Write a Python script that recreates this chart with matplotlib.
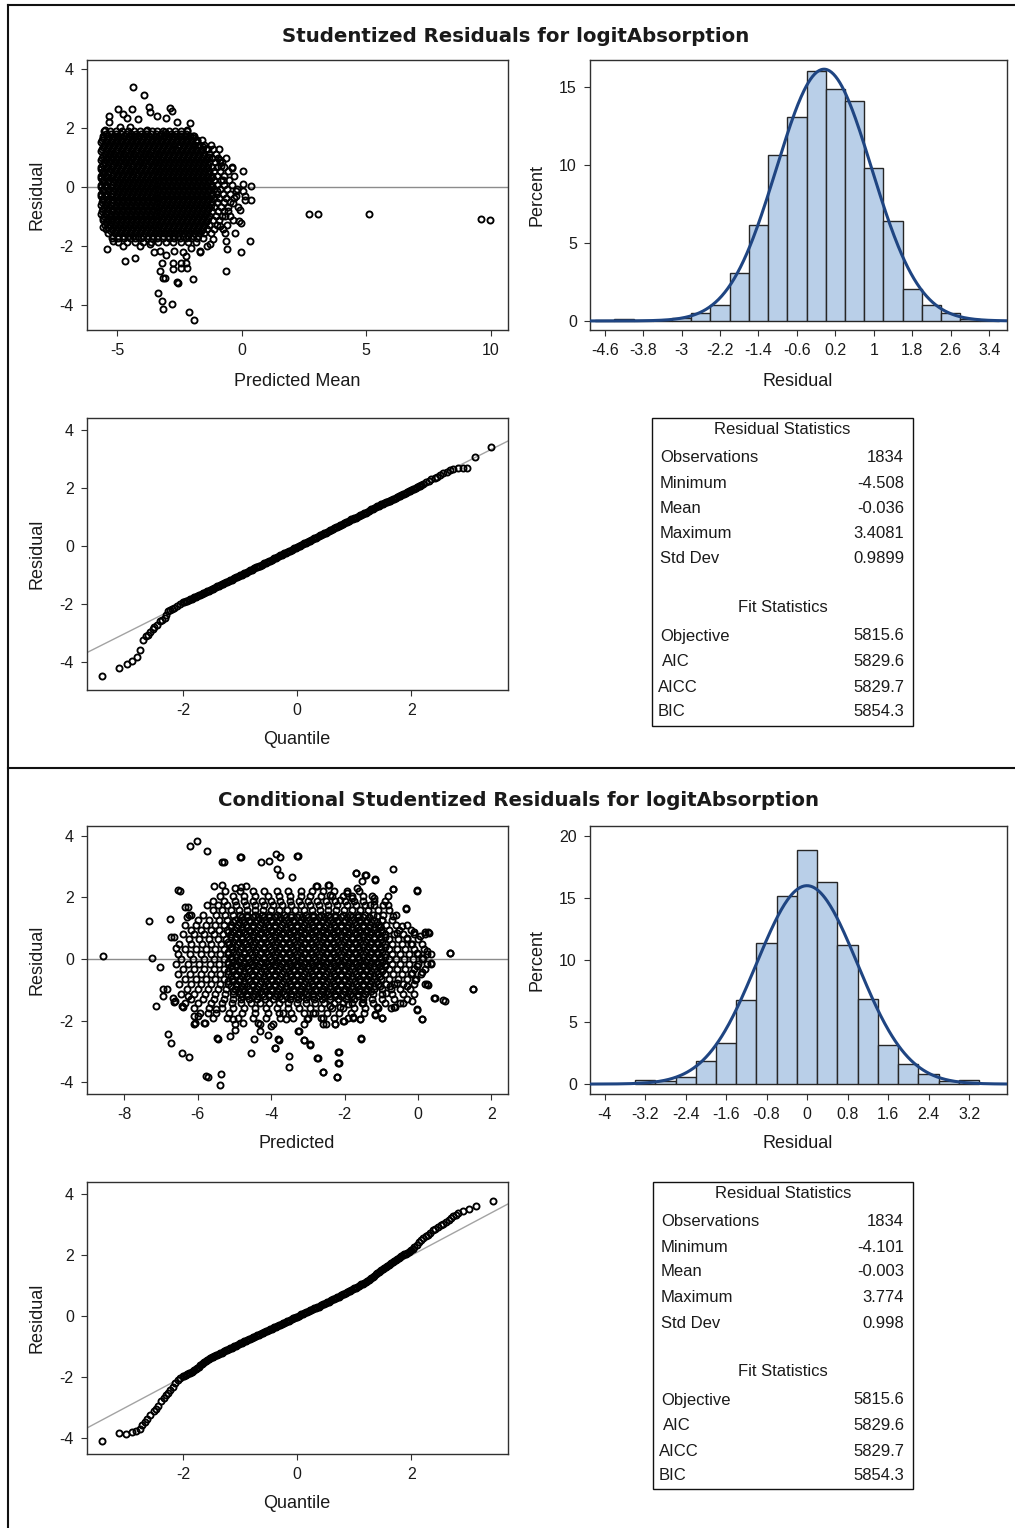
import numpy as np
import matplotlib
matplotlib.use("Agg")
import matplotlib.pyplot as plt
from matplotlib.patches import Rectangle
from matplotlib.lines import Line2D

plt.rcParams["axes.unicode_minus"] = False

W, H = 1015, 1528
LABEL_FONT = "Liberation Sans"
TITLE_FONT = "DejaVu Sans"
INK = "#1a1a1a"
FRAME = "#303030"
BAR_FILL = "#b9cfe8"
CURVE = "#1f4582"

# ---------------------------------------------------------------- data
TITLES = ["Studentized Residuals for logitAbsorption",
          "Conditional Studentized Residuals for logitAbsorption"]
SCATTER_XLABELS = ["Predicted Mean", "Predicted"]

# residual statistics tables (label, printed value)
TOP_RES_STATS = [("Observations", "1834"), ("Minimum", "-4.508"), ("Mean", "-0.036"),
                 ("Maximum", "3.4081"), ("Std Dev", "0.9899")]
BOT_RES_STATS = [("Observations", "1834"), ("Minimum", "-4.101"), ("Mean", "-0.003"),
                 ("Maximum", "3.774"), ("Std Dev", "0.998")]
FIT_STATS = [("Objective", "5815.6"), ("AIC", "5829.6"), ("AICC", "5829.7"), ("BIC", "5854.3")]

# histogram bins: centres and percent of observations (bin width 0.4)
BIN_WIDTH = 0.4
TOP_HIST_CENTERS = [-4.6, -4.2, -3.8, -3.4, -3.0, -2.6, -2.2, -1.8, -1.4, -1.0, -0.6,
                    -0.2, 0.2, 0.6, 1.0, 1.4, 1.8, 2.2, 2.6, 3.0, 3.4]
TOP_HIST_PCT = [0.05, 0.11, 0.05, 0.05, 0.16, 0.49, 1.04, 3.05, 6.12, 10.6, 13.06,
                16.0, 14.87, 14.08, 9.79, 6.42, 2.05, 1.04, 0.51, 0.13, 0.05]
BOT_HIST_CENTERS = [-3.2, -2.8, -2.4, -2.0, -1.6, -1.2, -0.8, -0.4, 0.0, 0.4, 0.8,
                    1.2, 1.6, 2.0, 2.4, 2.8, 3.2]
BOT_HIST_PCT = [0.29, 0.27, 0.6, 1.87, 3.3, 6.75, 11.33, 15.12, 18.85, 16.32, 11.2,
                6.88, 3.17, 1.63, 0.83, 0.27, 0.29]
TOP_HIST_TICKS = [-4.6, -3.8, -3.0, -2.2, -1.4, -0.6, 0.2, 1.0, 1.8, 2.6, 3.4]
BOT_HIST_TICKS = [-4.0, -3.2, -2.4, -1.6, -0.8, 0.0, 0.8, 1.6, 2.4, 3.2]

# residual vs predicted mean (marginal model): rows across the main cloud
TOP_ROWS = [
    (1.88, [-5.52, -5.28, -5.05, -4.8, -4.58, -4.33, -4.1, -3.86, -3.62, -3.4, -3.15, -2.92, -2.68, -2.45, -2.2]),
    (1.73, [-5.56, -5.36, -5.14, -4.95, -4.73, -4.52, -4.34, -4.12, -3.93, -3.72, -3.5, -3.31, -3.1, -2.9, -2.7, -2.48, -2.28, -2.08, -1.9]),
    (1.58, [-5.6, -5.42, -5.22, -5.01, -4.83, -4.62, -4.42, -4.23, -4.02, -3.82, -3.62, -3.41, -3.22, -3.01, -2.81, -2.6, -2.41, -2.2, -2.0, -1.8, -1.58]),
    (1.43, [-5.52, -5.31, -5.12, -4.92, -4.71, -4.52, -4.31, -4.12, -3.91, -3.71, -3.52, -3.3, -3.11, -2.9, -2.71, -2.5, -2.31, -2.11, -1.9, -1.71, -1.5, -1.25]),
    (1.28, [-5.6, -5.41, -5.2, -5.02, -4.8, -4.61, -4.42, -4.2, -4.02, -3.8, -3.61, -3.42, -3.2, -3.01, -2.8, -2.62, -2.4, -2.21, -2.0, -1.82, -1.6, -1.42, -1.15, -0.9]),
    (1.13, [-5.5, -5.3, -5.11, -4.9, -4.71, -4.5, -4.31, -4.1, -3.9, -3.71, -3.5, -3.3, -3.1, -2.91, -2.7, -2.5, -2.31, -2.1, -1.9, -1.71, -1.5, -1.32, -1.05]),
    (0.98, [-5.62, -5.41, -5.21, -5.0, -4.81, -4.6, -4.41, -4.2, -4.01, -3.8, -3.6, -3.41, -3.2, -3.0, -2.81, -2.6, -2.4, -2.2, -2.01, -1.8, -1.6, -1.41, -1.2, -0.95, -0.62]),
    (0.83, [-5.52, -5.31, -5.1, -4.91, -4.7, -4.51, -4.3, -4.1, -3.91, -3.7, -3.5, -3.31, -3.1, -2.9, -2.7, -2.51, -2.3, -2.1, -1.91, -1.7, -1.5, -1.3, -1.08, -0.8]),
    (0.68, [-5.64, -5.42, -5.2, -5.01, -4.8, -4.6, -4.4, -4.21, -4.0, -3.8, -3.61, -3.4, -3.2, -3.0, -2.8, -2.61, -2.4, -2.2, -2.0, -1.81, -1.6, -1.4, -1.21, -1.0, -0.7]),
    (0.53, [-5.55, -5.32, -5.1, -4.9, -4.7, -4.5, -4.31, -4.1, -3.9, -3.7, -3.5, -3.3, -3.11, -2.9, -2.7, -2.5, -2.3, -2.1, -1.9, -1.7, -1.5, -1.31, -1.1, -0.88, -0.55]),
    (0.38, [-5.66, -5.44, -5.21, -5.0, -4.8, -4.6, -4.41, -4.2, -4.0, -3.8, -3.6, -3.4, -3.2, -3.01, -2.8, -2.6, -2.4, -2.2, -2.0, -1.8, -1.6, -1.41, -1.2, -0.98, -0.7, -0.3]),
    (0.23, [-5.55, -5.33, -5.1, -4.9, -4.7, -4.5, -4.3, -4.1, -3.9, -3.7, -3.5, -3.3, -3.1, -2.9, -2.7, -2.5, -2.3, -2.1, -1.9, -1.7, -1.5, -1.3, -1.1, -0.85, -0.5]),
    (0.08, [-5.66, -5.43, -5.2, -5.0, -4.8, -4.6, -4.4, -4.2, -4.0, -3.8, -3.6, -3.4, -3.2, -3.0, -2.8, -2.6, -2.4, -2.2, -2.0, -1.8, -1.6, -1.4, -1.2, -0.98, -0.72, -0.38]),
    (-0.07, [-5.56, -5.33, -5.1, -4.9, -4.7, -4.5, -4.3, -4.1, -3.9, -3.7, -3.5, -3.3, -3.1, -2.9, -2.7, -2.5, -2.3, -2.1, -1.9, -1.7, -1.5, -1.3, -1.1, -0.88, -0.58, -0.2]),
    (-0.22, [-5.64, -5.42, -5.2, -5.0, -4.8, -4.6, -4.4, -4.2, -4.0, -3.8, -3.6, -3.4, -3.2, -3.0, -2.8, -2.6, -2.4, -2.2, -2.0, -1.8, -1.6, -1.4, -1.2, -1.0, -0.75, -0.45]),
    (-0.37, [-5.55, -5.32, -5.1, -4.9, -4.7, -4.5, -4.3, -4.1, -3.9, -3.7, -3.5, -3.3, -3.1, -2.9, -2.7, -2.5, -2.3, -2.1, -1.9, -1.7, -1.5, -1.3, -1.1, -0.9, -0.62, -0.3]),
    (-0.52, [-5.62, -5.42, -5.2, -5.0, -4.8, -4.6, -4.4, -4.2, -4.0, -3.8, -3.6, -3.4, -3.2, -3.0, -2.8, -2.6, -2.4, -2.2, -2.0, -1.8, -1.6, -1.4, -1.2, -0.98, -0.72, -0.48]),
    (-0.67, [-5.54, -5.32, -5.1, -4.9, -4.7, -4.5, -4.3, -4.1, -3.9, -3.7, -3.5, -3.3, -3.1, -2.9, -2.7, -2.5, -2.3, -2.1, -1.9, -1.7, -1.5, -1.3, -1.1, -0.85, -0.55, -0.15]),
    (-0.82, [-5.6, -5.4, -5.2, -5.0, -4.8, -4.6, -4.4, -4.2, -4.0, -3.8, -3.6, -3.4, -3.2, -3.0, -2.8, -2.6, -2.4, -2.2, -2.0, -1.8, -1.6, -1.4, -1.2, -0.95, -0.7]),
    (-0.97, [-5.52, -5.3, -5.1, -4.9, -4.7, -4.5, -4.3, -4.1, -3.9, -3.7, -3.5, -3.3, -3.1, -2.9, -2.7, -2.5, -2.3, -2.1, -1.9, -1.7, -1.5, -1.3, -1.05, -0.8, -0.45]),
    (-1.12, [-5.58, -5.38, -5.2, -5.0, -4.8, -4.6, -4.4, -4.2, -4.0, -3.8, -3.6, -3.4, -3.2, -3.0, -2.8, -2.6, -2.4, -2.2, -2.0, -1.8, -1.6, -1.4, -1.15, -0.9]),
    (-1.27, [-5.5, -5.3, -5.1, -4.9, -4.7, -4.5, -4.3, -4.1, -3.9, -3.7, -3.5, -3.3, -3.1, -2.9, -2.7, -2.5, -2.3, -2.1, -1.9, -1.7, -1.5, -1.3, -1.0, -0.6]),
    (-1.42, [-5.45, -5.22, -5.0, -4.8, -4.6, -4.4, -4.2, -4.0, -3.8, -3.6, -3.4, -3.2, -3.0, -2.8, -2.6, -2.4, -2.2, -2.0, -1.8, -1.6, -1.4, -1.12, -0.75]),
    (-1.57, [-5.35, -5.1, -4.9, -4.7, -4.5, -4.3, -4.1, -3.9, -3.7, -3.5, -3.3, -3.1, -2.9, -2.7, -2.5, -2.3, -2.1, -1.9, -1.7, -1.5, -1.25]),
    (-1.72, [-5.2, -4.95, -4.72, -4.5, -4.28, -4.05, -3.82, -3.6, -3.38, -3.15, -2.92, -2.7, -2.48, -2.25, -2.02, -1.8, -1.55]),
    (-1.87, [-4.95, -4.62, -4.3, -3.98, -3.66, -3.35, -3.05, -2.75, -2.45, -2.15, -1.85]),
]
# the solid black core of the marginal cloud
TOP_CORE = [
    (1.805, [-5.45, -5.25, -5.05, -4.85, -4.65, -4.45, -4.25, -4.05, -3.85, -3.65, -3.45, -3.25, -3.05, -2.85, -2.65, -2.45, -2.25]),
    (1.655, [-5.55, -5.35, -5.15, -4.95, -4.75, -4.55, -4.35, -4.15, -3.95, -3.75, -3.55, -3.35, -3.15, -2.95, -2.75, -2.55, -2.35, -2.15, -1.95]),
    (1.505, [-5.65, -5.45, -5.25, -5.05, -4.85, -4.65, -4.45, -4.25, -4.05, -3.85, -3.65, -3.45, -3.25, -3.05, -2.85, -2.65, -2.45, -2.25, -2.05, -1.85]),
    (1.355, [-5.55, -5.35, -5.15, -4.95, -4.75, -4.55, -4.35, -4.15, -3.95, -3.75, -3.55, -3.35, -3.15, -2.95, -2.75, -2.55, -2.35, -2.15, -1.95, -1.75, -1.55]),
    (1.205, [-5.65, -5.45, -5.25, -5.05, -4.85, -4.65, -4.45, -4.25, -4.05, -3.85, -3.65, -3.45, -3.25, -3.05, -2.85, -2.65, -2.45, -2.25, -2.05, -1.85, -1.65]),
    (1.055, [-5.55, -5.35, -5.15, -4.95, -4.75, -4.55, -4.35, -4.15, -3.95, -3.75, -3.55, -3.35, -3.15, -2.95, -2.75, -2.55, -2.35, -2.15, -1.95, -1.75, -1.55]),
    (0.905, [-5.65, -5.45, -5.25, -5.05, -4.85, -4.65, -4.45, -4.25, -4.05, -3.85, -3.65, -3.45, -3.25, -3.05, -2.85, -2.65, -2.45, -2.25, -2.05, -1.85, -1.65, -1.45]),
    (0.755, [-5.55, -5.35, -5.15, -4.95, -4.75, -4.55, -4.35, -4.15, -3.95, -3.75, -3.55, -3.35, -3.15, -2.95, -2.75, -2.55, -2.35, -2.15, -1.95, -1.75, -1.55, -1.35]),
    (0.605, [-5.65, -5.45, -5.25, -5.05, -4.85, -4.65, -4.45, -4.25, -4.05, -3.85, -3.65, -3.45, -3.25, -3.05, -2.85, -2.65, -2.45, -2.25, -2.05, -1.85, -1.65, -1.45]),
    (0.455, [-5.55, -5.35, -5.15, -4.95, -4.75, -4.55, -4.35, -4.15, -3.95, -3.75, -3.55, -3.35, -3.15, -2.95, -2.75, -2.55, -2.35, -2.15, -1.95, -1.75, -1.55, -1.35]),
    (0.305, [-5.65, -5.45, -5.25, -5.05, -4.85, -4.65, -4.45, -4.25, -4.05, -3.85, -3.65, -3.45, -3.25, -3.05, -2.85, -2.65, -2.45, -2.25, -2.05, -1.85, -1.65, -1.45, -1.25]),
    (0.155, [-5.55, -5.35, -5.15, -4.95, -4.75, -4.55, -4.35, -4.15, -3.95, -3.75, -3.55, -3.35, -3.15, -2.95, -2.75, -2.55, -2.35, -2.15, -1.95, -1.75, -1.55, -1.35]),
    (0.005, [-5.65, -5.45, -5.25, -5.05, -4.85, -4.65, -4.45, -4.25, -4.05, -3.85, -3.65, -3.45, -3.25, -3.05, -2.85, -2.65, -2.45, -2.25, -2.05, -1.85, -1.65, -1.45, -1.25]),
    (-0.145, [-5.55, -5.35, -5.15, -4.95, -4.75, -4.55, -4.35, -4.15, -3.95, -3.75, -3.55, -3.35, -3.15, -2.95, -2.75, -2.55, -2.35, -2.15, -1.95, -1.75, -1.55, -1.35]),
    (-0.295, [-5.65, -5.45, -5.25, -5.05, -4.85, -4.65, -4.45, -4.25, -4.05, -3.85, -3.65, -3.45, -3.25, -3.05, -2.85, -2.65, -2.45, -2.25, -2.05, -1.85, -1.65, -1.45, -1.25]),
    (-0.445, [-5.55, -5.35, -5.15, -4.95, -4.75, -4.55, -4.35, -4.15, -3.95, -3.75, -3.55, -3.35, -3.15, -2.95, -2.75, -2.55, -2.35, -2.15, -1.95, -1.75, -1.55, -1.35]),
    (-0.595, [-5.65, -5.45, -5.25, -5.05, -4.85, -4.65, -4.45, -4.25, -4.05, -3.85, -3.65, -3.45, -3.25, -3.05, -2.85, -2.65, -2.45, -2.25, -2.05, -1.85, -1.65, -1.45, -1.25]),
    (-0.745, [-5.55, -5.35, -5.15, -4.95, -4.75, -4.55, -4.35, -4.15, -3.95, -3.75, -3.55, -3.35, -3.15, -2.95, -2.75, -2.55, -2.35, -2.15, -1.95, -1.75, -1.55, -1.35]),
    (-0.895, [-5.65, -5.45, -5.25, -5.05, -4.85, -4.65, -4.45, -4.25, -4.05, -3.85, -3.65, -3.45, -3.25, -3.05, -2.85, -2.65, -2.45, -2.25, -2.05, -1.85, -1.65, -1.45]),
    (-1.045, [-5.55, -5.35, -5.15, -4.95, -4.75, -4.55, -4.35, -4.15, -3.95, -3.75, -3.55, -3.35, -3.15, -2.95, -2.75, -2.55, -2.35, -2.15, -1.95, -1.75, -1.55, -1.35]),
    (-1.195, [-5.45, -5.25, -5.05, -4.85, -4.65, -4.45, -4.25, -4.05, -3.85, -3.65, -3.45, -3.25, -3.05, -2.85, -2.65, -2.45, -2.25, -2.05, -1.85, -1.65, -1.45]),
    (-1.345, [-5.55, -5.35, -5.15, -4.95, -4.75, -4.55, -4.35, -4.15, -3.95, -3.75, -3.55, -3.35, -3.15, -2.95, -2.75, -2.55, -2.35, -2.15, -1.95, -1.75, -1.55]),
    (-1.495, [-5.25, -5.05, -4.85, -4.65, -4.45, -4.25, -4.05, -3.85, -3.65, -3.45, -3.25, -3.05, -2.85, -2.65, -2.45, -2.25, -2.05, -1.85, -1.65]),
    (-1.645, [-5.15, -4.95, -4.75, -4.55, -4.35, -4.15, -3.95, -3.75, -3.55, -3.35, -3.15, -2.95, -2.75, -2.55, -2.35, -2.15, -1.95, -1.75]),
]
# scattered observations around the marginal cloud
TOP_POINTS = [
    (-4.36, 3.37), (-3.92, 3.11), (-4.96, 2.64), (-4.41, 2.64), (-5.34, 2.40), (-3.72, 2.69),
    (-2.89, 2.67), (-2.78, 2.57), (-2.06, 2.15), (-4.17, 2.31), (-3.02, 2.32), (-3.68, 2.55),
    (-3.41, 2.40), (-2.61, 2.21), (-2.21, 1.93), (-5.31, 2.21), (-4.75, 2.47), (-4.61, 2.32),
    (-4.88, 2.04), (-5.48, 1.93), (-4.48, 2.04), (-3.81, 1.91), (-3.07, 1.87),
    (-1.94, 1.71), (-1.81, 1.54), (-1.34, 1.28), (-1.30, 1.03), (-0.87, 0.92), (-0.84, 0.70),
    (-0.40, 0.66), (0.04, 0.55), (0.04, 0.11), (0.36, 0.04), (0.07, -0.15), (-0.23, -0.31),
    (0.13, -0.43), (0.36, -0.43), (-0.54, -0.82), (-0.33, -0.54), (-0.07, -0.76), (-0.04, -1.21),
    (-0.33, -1.10), (-0.67, -0.99), (-0.87, -1.32), (-0.67, -1.55), (0.33, -1.83), (-0.03, -2.19),
    (-0.63, -2.84), (-1.14, -1.77), (-1.40, -2.0), (-1.00, -0.15), (-0.74, 0.25), (-0.39, 0.64),
    (0.12, -0.31), (-0.21, -0.15), (-0.11, -1.16), (-0.25, -1.55), (-0.62, -1.83), (-0.86, 0.86),
    (2.70, -0.91), (3.06, -0.91), (5.10, -0.91), (9.60, -1.07), (9.95, -1.13),
    (-5.39, -2.08), (-4.68, -2.51), (-4.29, -2.39), (-3.20, -2.56), (-3.29, -2.84), (-3.14, -3.06),
    (-3.06, -3.06), (-2.76, -2.78), (-2.76, -2.56), (-2.55, -3.23), (-2.42, -2.56), (-2.22, -2.56),
    (-2.22, -2.33), (-1.95, -3.10), (-3.34, -3.59), (-3.21, -3.85), (-3.16, -4.13), (-2.78, -3.96),
    (-2.13, -4.22), (-1.93, -4.49), (-1.69, -2.19), (-2.03, -2.05), (-1.28, -1.94), (-0.58, -2.11),
    (-3.04, -2.28), (-3.52, -2.20), (-5.15, -1.83), (-4.75, -2.0), (-4.08, -2.0), (-3.68, -1.94),
    (-3.28, -2.17), (-2.72, -2.17), (-2.34, -2.2), (-1.67, -2.17), (-2.45, -2.73), (-2.21, -2.73),
    (-2.58, -3.20),
]

# conditional residual vs predicted: rows across the main cloud
BOT_ROWS = [
    (2.2, [-5.25, -4.85, -4.5, -4.2, -3.85, -3.55, -3.2, -2.9, -2.6, -2.3, -1.95, -1.6]),
    (2.05, [-5.4, -5.05, -4.75, -4.45, -4.1, -3.8, -3.5, -3.2, -2.95, -2.65, -2.35, -2.05, -1.8, -1.5, -1.25]),
    (1.9, [-5.6, -5.3, -5.0, -4.75, -4.5, -4.25, -4.0, -3.75, -3.5, -3.25, -3.0, -2.75, -2.5, -2.25, -2.0, -1.75, -1.5, -1.2, -0.9]),
    (1.75, [-5.75, -5.45, -5.2, -4.95, -4.7, -4.45, -4.2, -3.95, -3.7, -3.45, -3.2, -2.95, -2.7, -2.45, -2.2, -1.95, -1.7, -1.45, -1.2, -0.95]),
    (1.6, [-5.6, -5.35, -5.1, -4.88, -4.66, -4.44, -4.22, -4.0, -3.78, -3.56, -3.34, -3.12, -2.9, -2.68, -2.46, -2.24, -2.02, -1.8, -1.58, -1.36, -1.1, -0.8]),
    (1.44, [-6.2, -5.85, -5.5, -5.27, -5.05, -4.85, -4.65, -4.45, -4.25, -4.05, -3.85, -3.65, -3.45, -3.25, -3.05, -2.85, -2.65, -2.45, -2.25, -2.05, -1.85, -1.65, -1.45, -1.22, -0.95, -0.6]),
    (1.28, [-6.0, -5.7, -5.42, -5.2, -5.0, -4.8, -4.6, -4.4, -4.2, -4.0, -3.8, -3.6, -3.4, -3.2, -3.0, -2.8, -2.6, -2.4, -2.2, -2.0, -1.8, -1.6, -1.4, -1.2, -0.98, -0.72]),
    (1.12, [-6.35, -6.05, -5.78, -5.53, -5.3, -5.1, -4.9, -4.7, -4.5, -4.3, -4.1, -3.9, -3.7, -3.5, -3.3, -3.1, -2.9, -2.7, -2.5, -2.3, -2.1, -1.9, -1.7, -1.5, -1.3, -1.1, -0.88, -0.6, -0.3]),
    (0.96, [-6.2, -5.92, -5.65, -5.42, -5.2, -5.0, -4.8, -4.6, -4.4, -4.2, -4.0, -3.8, -3.6, -3.4, -3.2, -3.0, -2.8, -2.6, -2.4, -2.2, -2.0, -1.8, -1.6, -1.4, -1.2, -1.0, -0.78, -0.52, -0.2]),
    (0.8, [-6.4, -6.1, -5.82, -5.56, -5.32, -5.1, -4.9, -4.7, -4.5, -4.3, -4.1, -3.9, -3.7, -3.5, -3.3, -3.1, -2.9, -2.7, -2.5, -2.3, -2.1, -1.9, -1.7, -1.5, -1.3, -1.1, -0.9, -0.65, -0.4, -0.1, 0.2]),
    (0.64, [-6.25, -5.96, -5.7, -5.45, -5.22, -5.0, -4.8, -4.6, -4.4, -4.2, -4.0, -3.8, -3.6, -3.4, -3.2, -3.0, -2.8, -2.6, -2.4, -2.2, -2.0, -1.8, -1.6, -1.4, -1.2, -1.0, -0.8, -0.56, -0.3, 0.0]),
    (0.48, [-6.5, -6.18, -5.9, -5.63, -5.38, -5.15, -4.92, -4.7, -4.5, -4.3, -4.1, -3.9, -3.7, -3.5, -3.3, -3.1, -2.9, -2.7, -2.5, -2.3, -2.1, -1.9, -1.7, -1.5, -1.3, -1.1, -0.9, -0.7, -0.45, -0.2, 0.1]),
    (0.32, [-6.35, -6.05, -5.78, -5.53, -5.3, -5.08, -4.86, -4.64, -4.42, -4.2, -4.0, -3.8, -3.6, -3.4, -3.2, -3.0, -2.8, -2.6, -2.4, -2.2, -2.0, -1.8, -1.6, -1.4, -1.2, -1.0, -0.8, -0.58, -0.35, -0.1, 0.15]),
    (0.16, [-6.55, -6.22, -5.92, -5.65, -5.4, -5.18, -4.96, -4.74, -4.52, -4.3, -4.1, -3.9, -3.7, -3.5, -3.3, -3.1, -2.9, -2.7, -2.5, -2.3, -2.1, -1.9, -1.7, -1.5, -1.3, -1.1, -0.9, -0.7, -0.48, -0.25, 0.0, 0.25]),
    (0.0, [-6.45, -6.12, -5.82, -5.55, -5.3, -5.08, -4.86, -4.64, -4.42, -4.2, -4.0, -3.8, -3.6, -3.4, -3.2, -3.0, -2.8, -2.6, -2.4, -2.2, -2.0, -1.8, -1.6, -1.4, -1.2, -1.0, -0.8, -0.6, -0.38, -0.15, 0.1]),
    (-0.16, [-6.6, -6.28, -5.97, -5.68, -5.42, -5.18, -4.96, -4.74, -4.52, -4.3, -4.1, -3.9, -3.7, -3.5, -3.3, -3.1, -2.9, -2.7, -2.5, -2.3, -2.1, -1.9, -1.7, -1.5, -1.3, -1.1, -0.9, -0.7, -0.48, -0.25, 0.0, 0.25]),
    (-0.32, [-6.4, -6.1, -5.82, -5.55, -5.3, -5.08, -4.86, -4.64, -4.42, -4.2, -4.0, -3.8, -3.6, -3.4, -3.2, -3.0, -2.8, -2.6, -2.4, -2.2, -2.0, -1.8, -1.6, -1.4, -1.2, -1.0, -0.8, -0.58, -0.35, -0.1, 0.18]),
    (-0.48, [-6.55, -6.22, -5.92, -5.65, -5.4, -5.18, -4.96, -4.74, -4.52, -4.3, -4.1, -3.9, -3.7, -3.5, -3.3, -3.1, -2.9, -2.7, -2.5, -2.3, -2.1, -1.9, -1.7, -1.5, -1.3, -1.1, -0.9, -0.68, -0.45, -0.2, 0.08]),
    (-0.64, [-6.35, -6.05, -5.78, -5.53, -5.3, -5.08, -4.86, -4.64, -4.42, -4.2, -4.0, -3.8, -3.6, -3.4, -3.2, -3.0, -2.8, -2.6, -2.4, -2.2, -2.0, -1.8, -1.6, -1.4, -1.2, -1.0, -0.78, -0.55, -0.3, -0.05]),
    (-0.8, [-6.5, -6.2, -5.92, -5.65, -5.4, -5.18, -4.96, -4.74, -4.52, -4.3, -4.1, -3.9, -3.7, -3.5, -3.3, -3.1, -2.9, -2.7, -2.5, -2.3, -2.1, -1.9, -1.7, -1.5, -1.3, -1.1, -0.88, -0.65, -0.4, -0.12, 0.2]),
    (-0.96, [-6.3, -6.0, -5.72, -5.46, -5.22, -5.0, -4.8, -4.6, -4.4, -4.2, -4.0, -3.8, -3.6, -3.4, -3.2, -3.0, -2.8, -2.6, -2.4, -2.2, -2.0, -1.8, -1.6, -1.4, -1.2, -0.98, -0.75, -0.5, -0.22]),
    (-1.12, [-6.45, -6.1, -5.8, -5.52, -5.27, -5.05, -4.85, -4.65, -4.45, -4.25, -4.05, -3.85, -3.65, -3.45, -3.25, -3.05, -2.85, -2.65, -2.45, -2.25, -2.05, -1.85, -1.65, -1.45, -1.22, -0.98, -0.7, -0.4, -0.1]),
    (-1.28, [-6.2, -5.85, -5.55, -5.28, -5.05, -4.82, -4.6, -4.38, -4.16, -3.94, -3.72, -3.5, -3.28, -3.06, -2.84, -2.62, -2.4, -2.18, -1.96, -1.74, -1.5, -1.25, -0.98, -0.65, -0.3]),
    (-1.44, [-6.35, -6.0, -5.65, -5.35, -5.08, -4.82, -4.56, -4.3, -4.05, -3.8, -3.55, -3.3, -3.05, -2.8, -2.55, -2.3, -2.05, -1.8, -1.52, -1.22, -0.9, -0.5]),
    (-1.6, [-6.1, -5.7, -5.35, -5.05, -4.75, -4.45, -4.15, -3.85, -3.55, -3.25, -2.95, -2.65, -2.35, -2.05, -1.75, -1.45, -1.1, -0.75]),
    (-1.76, [-5.95, -5.5, -5.15, -4.8, -4.45, -4.1, -3.78, -3.45, -3.12, -2.8, -2.48, -2.15, -1.82, -1.48]),
    (-1.92, [-5.6, -5.2, -4.9, -4.5, -4.15, -3.75, -3.4, -3.0, -2.65, -2.3, -1.9]),
    (-2.1, [-6.1, -5.0, -4.3, -3.95, -3.1, -2.5]),
]
# the solid black core of the conditional cloud
BOT_CORE = [
    (1.36, [-4.8, -4.65, -4.5, -4.35, -4.2, -4.05, -3.9, -3.75, -3.6, -3.45, -3.3, -3.15, -3.0, -2.85, -2.7, -2.55, -2.4, -2.25, -2.1, -1.95, -1.8, -1.65, -1.5, -1.35]),
    (1.2, [-5.03, -4.88, -4.73, -4.58, -4.43, -4.28, -4.13, -3.98, -3.83, -3.68, -3.53, -3.38, -3.23, -3.08, -2.93, -2.78, -2.63, -2.48, -2.33, -2.18, -2.03, -1.88, -1.73, -1.58, -1.43, -1.28, -1.13]),
    (1.04, [-5.1, -4.95, -4.8, -4.65, -4.5, -4.35, -4.2, -4.05, -3.9, -3.75, -3.6, -3.45, -3.3, -3.15, -3.0, -2.85, -2.7, -2.55, -2.4, -2.25, -2.1, -1.95, -1.8, -1.65, -1.5, -1.35, -1.2, -1.05]),
    (0.88, [-5.18, -5.03, -4.88, -4.73, -4.58, -4.43, -4.28, -4.13, -3.98, -3.83, -3.68, -3.53, -3.38, -3.23, -3.08, -2.93, -2.78, -2.63, -2.48, -2.33, -2.18, -2.03, -1.88, -1.73, -1.58, -1.43, -1.28, -1.13, -0.98]),
    (0.72, [-5.1, -4.95, -4.8, -4.65, -4.5, -4.35, -4.2, -4.05, -3.9, -3.75, -3.6, -3.45, -3.3, -3.15, -3.0, -2.85, -2.7, -2.55, -2.4, -2.25, -2.1, -1.95, -1.8, -1.65, -1.5, -1.35, -1.2, -1.05, -0.9]),
    (0.56, [-5.18, -5.03, -4.88, -4.73, -4.58, -4.43, -4.28, -4.13, -3.98, -3.83, -3.68, -3.53, -3.38, -3.23, -3.08, -2.93, -2.78, -2.63, -2.48, -2.33, -2.18, -2.03, -1.88, -1.73, -1.58, -1.43, -1.28, -1.13, -0.98]),
    (0.40, [-5.1, -4.95, -4.8, -4.65, -4.5, -4.35, -4.2, -4.05, -3.9, -3.75, -3.6, -3.45, -3.3, -3.15, -3.0, -2.85, -2.7, -2.55, -2.4, -2.25, -2.1, -1.95, -1.8, -1.65, -1.5, -1.35, -1.2, -1.05, -0.9]),
    (0.24, [-5.18, -5.03, -4.88, -4.73, -4.58, -4.43, -4.28, -4.13, -3.98, -3.83, -3.68, -3.53, -3.38, -3.23, -3.08, -2.93, -2.78, -2.63, -2.48, -2.33, -2.18, -2.03, -1.88, -1.73, -1.58, -1.43, -1.28, -1.13, -0.98]),
    (0.08, [-5.1, -4.95, -4.8, -4.65, -4.5, -4.35, -4.2, -4.05, -3.9, -3.75, -3.6, -3.45, -3.3, -3.15, -3.0, -2.85, -2.7, -2.55, -2.4, -2.25, -2.1, -1.95, -1.8, -1.65, -1.5, -1.35, -1.2, -1.05, -0.9]),
    (-0.08, [-5.18, -5.03, -4.88, -4.73, -4.58, -4.43, -4.28, -4.13, -3.98, -3.83, -3.68, -3.53, -3.38, -3.23, -3.08, -2.93, -2.78, -2.63, -2.48, -2.33, -2.18, -2.03, -1.88, -1.73, -1.58, -1.43, -1.28, -1.13, -0.98]),
    (-0.24, [-5.1, -4.95, -4.8, -4.65, -4.5, -4.35, -4.2, -4.05, -3.9, -3.75, -3.6, -3.45, -3.3, -3.15, -3.0, -2.85, -2.7, -2.55, -2.4, -2.25, -2.1, -1.95, -1.8, -1.65, -1.5, -1.35, -1.2, -1.05, -0.9]),
    (-0.40, [-5.18, -5.03, -4.88, -4.73, -4.58, -4.43, -4.28, -4.13, -3.98, -3.83, -3.68, -3.53, -3.38, -3.23, -3.08, -2.93, -2.78, -2.63, -2.48, -2.33, -2.18, -2.03, -1.88, -1.73, -1.58, -1.43, -1.28, -1.13, -0.98]),
    (-0.56, [-5.1, -4.95, -4.8, -4.65, -4.5, -4.35, -4.2, -4.05, -3.9, -3.75, -3.6, -3.45, -3.3, -3.15, -3.0, -2.85, -2.7, -2.55, -2.4, -2.25, -2.1, -1.95, -1.8, -1.65, -1.5, -1.35, -1.2, -1.05]),
    (-0.72, [-5.18, -5.03, -4.88, -4.73, -4.58, -4.43, -4.28, -4.13, -3.98, -3.83, -3.68, -3.53, -3.38, -3.23, -3.08, -2.93, -2.78, -2.63, -2.48, -2.33, -2.18, -2.03, -1.88, -1.73, -1.58, -1.43, -1.28, -1.13]),
    (-0.88, [-5.1, -4.95, -4.8, -4.65, -4.5, -4.35, -4.2, -4.05, -3.9, -3.75, -3.6, -3.45, -3.3, -3.15, -3.0, -2.85, -2.7, -2.55, -2.4, -2.25, -2.1, -1.95, -1.8, -1.65, -1.5, -1.35, -1.2, -1.05]),
    (-1.04, [-5.03, -4.88, -4.73, -4.58, -4.43, -4.28, -4.13, -3.98, -3.83, -3.68, -3.53, -3.38, -3.23, -3.08, -2.93, -2.78, -2.63, -2.48, -2.33, -2.18, -2.03, -1.88, -1.73, -1.58, -1.43, -1.28]),
    (-1.2, [-4.8, -4.65, -4.5, -4.35, -4.2, -4.05, -3.9, -3.75, -3.6, -3.45, -3.3, -3.15, -3.0, -2.85, -2.7, -2.55, -2.4, -2.25, -2.1, -1.95, -1.8, -1.65, -1.5]),
]
# scattered observations around the conditional cloud
BOT_POINTS = [
    (-8.59, 0.10), (-7.34, 1.23), (-7.25, 0.04), (-7.03, -0.27), (-7.15, -1.51), (-6.94, -0.98),
    (-6.82, -2.44), (-6.72, -2.74), (-6.43, -3.06), (-6.25, -3.19), (-6.21, 3.66), (-6.03, 3.82),
    (-5.76, 3.50), (-5.30, 3.16), (-4.82, 3.30), (-4.27, 3.16), (-4.05, 3.18), (-3.86, 3.41),
    (-3.77, 3.30), (-3.29, 3.35), (-3.85, 2.94), (-3.77, 2.72), (-3.43, 2.67), (-6.55, 2.23),
    (-6.75, 1.29), (-6.72, 0.72), (-6.35, 1.70), (-6.30, 1.38), (-5.77, -3.79), (-5.73, -3.82),
    (-5.37, -3.74), (-5.41, -4.09), (-5.48, -2.57), (-4.56, -3.05), (-3.91, -2.90), (-3.80, -2.63),
    (-3.52, -3.15), (-3.52, -3.51), (-3.25, -2.32), (-3.11, -2.63), (-2.95, -2.79), (-2.74, -3.20),
    (-2.59, -3.68), (-2.15, -3.01), (-2.15, -3.36), (-2.21, -3.83), (-1.56, -2.58), (-2.26, -2.12),
    (-2.03, -2.00), (-1.77, -1.87), (-1.59, -1.94), (-1.16, -1.83), (-0.99, -1.91), (-0.65, -1.57),
    (-0.03, -1.65), (0.11, -1.96), (0.73, -1.35), (0.45, -1.25), (0.28, -0.84), (1.50, -0.98),
    (0.88, 0.19), (-0.03, 2.22), (-0.68, 2.94), (-0.68, 2.29), (-0.34, 1.64), (-1.68, 2.78),
    (-1.43, 2.72), (-1.16, 2.58), (-2.43, 2.42), (-2.79, 2.37), (0.29, 0.86), (0.34, 0.18),
    (0.36, -0.16), (-6.11, -1.85), (-6.09, -2.06), (-5.84, -2.06), (-6.64, -1.38), (-6.41, -1.55),
    (-6.49, 2.20), (-6.27, 1.70), (-6.24, 1.42), (-6.66, 0.72), (-6.60, 0.37), (-5.35, 3.14),
    (-4.85, 3.30), (-5.55, 2.36), (-5.33, 2.42), (-5.00, 2.31), (-4.82, 2.34), (-4.68, 2.36),
    (-6.85, -0.98), (-6.62, -1.36), (-6.44, -1.52), (-6.94, -1.20), (-6.08, -2.07), (-5.99, -1.85),
    (-5.81, -2.07), (-5.45, -2.59), (-5.13, -2.50), (-5.00, -2.29), (-4.48, -2.59), (-4.31, -2.34),
    (-4.09, -2.45), (-3.91, -2.88), (-3.82, -2.61), (-5.04, -1.96), (-4.77, -2.07), (-4.36, -2.07),
    (-4.00, -2.18), (-3.68, -1.74), (-3.59, -1.96), (-5.72, -1.74), (-5.50, -1.63), (-6.27, -1.20),
    (-6.67, -1.25), (-3.26, 3.36), (-1.69, 2.80), (-1.44, 2.74), (-1.17, 2.60), (-1.53, 2.53),
    (-0.67, 2.28), (-0.04, 2.23), (-0.81, 2.06), (-0.33, 1.66), (-0.67, 1.39), (-0.45, 1.07),
    (0.28, 0.87), (0.87, 0.20), (0.25, 0.26), (0.35, -0.14), (1.49, -0.98), (0.10, -0.42),
    (0.25, -0.82), (0.44, -1.25), (0.69, -1.33), (-0.04, -1.61), (0.10, -1.96), (-0.64, -1.56),
    (-0.40, -1.42), (-0.17, -1.36), (-1.12, -1.54), (-0.98, -1.90), (-1.17, -1.79), (-1.55, -2.57),
    (-2.17, -3.02), (-2.17, -3.36), (-2.21, -3.82), (-2.60, -3.66), (-2.75, -3.20), (-2.94, -2.77),
    (-3.12, -2.64), (-3.26, -2.33), (-2.26, -2.12), (-2.04, -2.01), (-1.76, -1.90), (-1.58, -1.93),
    (-2.58, -2.12), (-2.58, -1.90), (-3.03, -1.96), (-2.85, -1.74), (-2.40, -1.52), (-2.13, -1.57),
    (-1.90, -1.47), (-1.49, -1.42), (-0.88, -1.09), (-0.77, -0.88), (-0.58, -0.77), (-0.31, -0.88),
    (-0.08, -0.68), (-0.17, -0.44), (-0.04, -0.23), (0.14, 0.04), (-0.04, 0.20), (-0.17, 0.48),
    (-0.31, 0.69), (0.06, 0.74), (0.20, 0.87), (-0.12, 0.87), (-0.58, 0.85), (-1.03, 1.07),
    (-1.12, 1.39), (-0.98, 1.28), (-1.19, 1.99), (-1.94, 2.15), (-1.80, 1.99), (-2.12, 1.93),
    (-2.40, 2.09), (-2.76, 2.37), (-2.45, 2.42), (-1.67, 2.31), (-1.31, 1.77), (-0.81, 1.77),
]

# normal quantile plots: (theoretical quantile, sorted residual)
TOP_QQ = [
    (-3.41, -4.50), (-3.12, -4.21), (-2.98, -4.09), (-2.89, -3.98), (-2.80, -3.83), (-2.76, -3.60),
    (-2.70, -3.23), (-2.65, -3.12), (-2.61, -3.06), (-2.57, -2.97), (-2.53, -2.87), (-2.50, -2.80),
    (-2.46, -2.72), (-2.41, -2.60), (-2.36, -2.55), (-2.32, -2.49), (-2.29, -2.38), (-2.26, -2.26),
    (-2.23, -2.22), (-2.20, -2.18), (-2.15, -2.13), (-2.11, -2.09), (-2.05, -2.00),
    (-2.0, -1.95), (-1.95, -1.91), (-1.9, -1.87), (-1.85, -1.82), (-1.8, -1.77), (-1.75, -1.73),
    (-1.7, -1.68), (-1.65, -1.64), (-1.6, -1.59), (-1.55, -1.55), (-1.5, -1.50), (-1.45, -1.45),
    (-1.4, -1.40), (-1.35, -1.35), (-1.3, -1.30), (-1.25, -1.26), (-1.2, -1.21), (-1.15, -1.16),
    (-1.1, -1.11), (-1.05, -1.07), (-1.0, -1.02), (-0.95, -0.97), (-0.9, -0.92), (-0.85, -0.87),
    (-0.8, -0.82), (-0.75, -0.77), (-0.7, -0.72), (-0.65, -0.68), (-0.6, -0.63), (-0.55, -0.58),
    (-0.5, -0.53), (-0.45, -0.48), (-0.4, -0.43), (-0.35, -0.38), (-0.3, -0.33), (-0.25, -0.28),
    (-0.2, -0.24), (-0.15, -0.19), (-0.1, -0.14), (-0.05, -0.09), (0.0, -0.04), (0.05, 0.01),
    (0.1, 0.06), (0.15, 0.11), (0.2, 0.16), (0.25, 0.21), (0.3, 0.26), (0.35, 0.31), (0.4, 0.36),
    (0.45, 0.41), (0.5, 0.46), (0.55, 0.51), (0.6, 0.56), (0.65, 0.61), (0.7, 0.66), (0.75, 0.71),
    (0.8, 0.76), (0.85, 0.81), (0.9, 0.86), (0.95, 0.91), (1.0, 0.95), (1.05, 1.00), (1.1, 1.05),
    (1.15, 1.10), (1.2, 1.15), (1.25, 1.21), (1.3, 1.26), (1.35, 1.31), (1.4, 1.36), (1.45, 1.41),
    (1.5, 1.46), (1.55, 1.50), (1.6, 1.54), (1.65, 1.58), (1.7, 1.63), (1.75, 1.68), (1.8, 1.73),
    (1.85, 1.78), (1.9, 1.83), (1.95, 1.88), (2.0, 1.92), (2.05, 1.97), (2.1, 2.03), (2.15, 2.08),
    (2.2, 2.14), (2.25, 2.19), (2.30, 2.25), (2.35, 2.29), (2.41, 2.33), (2.45, 2.38), (2.50, 2.44),
    (2.56, 2.50), (2.62, 2.56), (2.68, 2.60), (2.73, 2.64), (2.82, 2.67), (2.91, 2.69), (2.98, 2.69),
    (3.12, 3.07), (3.40, 3.41),
    (-1.975, -1.93), (-1.925, -1.89), (-1.875, -1.845), (-1.825, -1.795), (-1.775, -1.75),
    (-1.725, -1.705), (-1.675, -1.66), (-1.625, -1.615), (-1.575, -1.57), (-1.525, -1.525),
    (-1.475, -1.475), (-1.425, -1.425), (-1.375, -1.375), (-1.325, -1.325), (-1.275, -1.28),
    (-1.225, -1.235), (-1.175, -1.185), (-1.125, -1.135), (-1.075, -1.09), (-1.025, -1.045),
    (-0.975, -0.995), (-0.925, -0.945), (-0.875, -0.895), (-0.825, -0.845), (-0.775, -0.795),
    (-0.725, -0.745), (-0.675, -0.70), (-0.625, -0.655), (-0.575, -0.605), (-0.525, -0.555),
    (-0.475, -0.505), (-0.425, -0.455), (-0.375, -0.405), (-0.325, -0.355), (-0.275, -0.305),
    (-0.225, -0.26), (-0.175, -0.215), (-0.125, -0.165), (-0.075, -0.115), (-0.025, -0.065),
    (0.025, -0.015), (0.075, 0.035), (0.125, 0.085), (0.175, 0.135), (0.225, 0.185),
    (0.275, 0.235), (0.325, 0.285), (0.375, 0.335), (0.425, 0.385), (0.475, 0.435),
    (0.525, 0.485), (0.575, 0.535), (0.625, 0.585), (0.675, 0.635), (0.725, 0.685),
    (0.775, 0.735), (0.825, 0.785), (0.875, 0.835), (0.925, 0.885), (0.975, 0.93),
    (1.025, 0.975), (1.075, 1.025), (1.125, 1.075), (1.175, 1.125), (1.225, 1.18),
    (1.275, 1.235), (1.325, 1.285), (1.375, 1.335), (1.425, 1.385), (1.475, 1.435),
    (1.525, 1.48), (1.575, 1.52), (1.625, 1.56), (1.675, 1.605), (1.725, 1.655),
    (1.775, 1.705), (1.825, 1.755), (1.875, 1.805), (1.925, 1.855), (1.975, 1.90),
    (2.025, 1.945), (2.075, 2.0), (2.125, 2.055), (2.175, 2.11),
]
BOT_QQ = [
    (-3.41, -4.10), (-3.12, -3.85), (-2.99, -3.87), (-2.90, -3.82), (-2.83, -3.78), (-2.76, -3.70),
    (-2.71, -3.58), (-2.67, -3.48), (-2.63, -3.37), (-2.58, -3.26), (-2.51, -3.12), (-2.47, -3.04),
    (-2.44, -2.97), (-2.38, -2.79), (-2.34, -2.70), (-2.30, -2.60), (-2.26, -2.52), (-2.23, -2.44),
    (-2.18, -2.32), (-2.14, -2.20), (-2.09, -2.10), (-2.05, -2.03),
    (-2.0, -1.98), (-1.95, -1.93), (-1.9, -1.88), (-1.85, -1.83), (-1.8, -1.77), (-1.75, -1.70),
    (-1.7, -1.62), (-1.65, -1.55), (-1.6, -1.48), (-1.55, -1.42), (-1.5, -1.36), (-1.45, -1.32),
    (-1.4, -1.27), (-1.35, -1.23), (-1.3, -1.18), (-1.25, -1.13), (-1.2, -1.08), (-1.15, -1.04),
    (-1.1, -0.99), (-1.05, -0.95), (-1.0, -0.90), (-0.95, -0.86), (-0.9, -0.81), (-0.85, -0.77),
    (-0.8, -0.72), (-0.75, -0.68), (-0.7, -0.63), (-0.65, -0.59), (-0.6, -0.55), (-0.55, -0.50),
    (-0.5, -0.46), (-0.45, -0.42), (-0.4, -0.37), (-0.35, -0.33), (-0.3, -0.28), (-0.25, -0.24),
    (-0.2, -0.19), (-0.15, -0.15), (-0.1, -0.10), (-0.05, -0.06), (0.0, -0.02), (0.05, 0.03),
    (0.1, 0.07), (0.15, 0.12), (0.2, 0.16), (0.25, 0.21), (0.3, 0.25), (0.35, 0.29), (0.4, 0.33),
    (0.45, 0.38), (0.5, 0.42), (0.55, 0.47), (0.6, 0.52), (0.65, 0.57), (0.7, 0.62), (0.75, 0.66),
    (0.8, 0.71), (0.85, 0.76), (0.9, 0.81), (0.95, 0.86), (1.0, 0.91), (1.05, 0.96), (1.1, 1.01),
    (1.15, 1.06), (1.2, 1.12), (1.25, 1.19), (1.3, 1.26), (1.35, 1.33), (1.4, 1.40), (1.45, 1.47),
    (1.5, 1.53), (1.55, 1.60), (1.6, 1.66), (1.65, 1.73), (1.7, 1.80), (1.75, 1.86), (1.8, 1.93),
    (1.85, 1.99), (1.9, 2.05), (1.95, 2.11), (2.0, 2.17), (2.05, 2.25),
    (2.09, 2.34), (2.13, 2.42), (2.17, 2.49), (2.21, 2.56), (2.25, 2.62), (2.29, 2.67), (2.33, 2.74),
    (2.38, 2.81), (2.42, 2.87), (2.47, 2.92), (2.51, 2.98), (2.56, 3.03), (2.60, 3.09), (2.65, 3.14),
    (2.69, 3.21), (2.73, 3.27), (2.78, 3.33), (2.82, 3.38), (2.91, 3.45), (3.00, 3.52), (3.13, 3.60),
    (3.42, 3.77),
    (-1.975, -1.955), (-1.925, -1.905), (-1.875, -1.855), (-1.825, -1.80), (-1.775, -1.735),
    (-1.725, -1.66), (-1.675, -1.585), (-1.625, -1.515), (-1.575, -1.45), (-1.525, -1.39),
    (-1.475, -1.34), (-1.425, -1.295), (-1.375, -1.25), (-1.325, -1.205), (-1.275, -1.155),
    (-1.225, -1.105), (-1.175, -1.06), (-1.125, -1.015), (-1.075, -0.97), (-1.025, -0.925),
    (-0.975, -0.88), (-0.925, -0.835), (-0.875, -0.79), (-0.825, -0.745), (-0.775, -0.70),
    (-0.725, -0.655), (-0.675, -0.61), (-0.625, -0.57), (-0.575, -0.525), (-0.525, -0.48),
    (-0.475, -0.44), (-0.425, -0.395), (-0.375, -0.35), (-0.325, -0.305), (-0.275, -0.26),
    (-0.225, -0.215), (-0.175, -0.17), (-0.125, -0.125), (-0.075, -0.08), (-0.025, -0.04),
    (0.025, 0.005), (0.075, 0.05), (0.125, 0.095), (0.175, 0.14), (0.225, 0.185),
    (0.275, 0.23), (0.325, 0.27), (0.375, 0.31), (0.425, 0.355), (0.475, 0.40),
    (0.525, 0.445), (0.575, 0.495), (0.625, 0.545), (0.675, 0.595), (0.725, 0.64),
    (0.775, 0.685), (0.825, 0.735), (0.875, 0.785), (0.925, 0.835), (0.975, 0.885),
    (1.025, 0.935), (1.075, 0.985), (1.125, 1.035), (1.175, 1.09), (1.225, 1.155),
    (1.275, 1.225), (1.325, 1.295), (1.375, 1.365), (1.425, 1.435), (1.475, 1.50),
    (1.525, 1.565), (1.575, 1.63), (1.625, 1.695), (1.675, 1.765), (1.725, 1.83),
    (1.775, 1.895), (1.825, 1.96), (1.875, 2.02), (1.925, 2.08), (1.975, 2.14), (2.025, 2.21),
]

# ---------------------------------------------------------------- helpers
fig = plt.figure(figsize=(W / 100, H / 100), dpi=100)
fig.patch.set_facecolor("white")


def box(left, top, right, bottom):
    return [left / W, 1 - bottom / H, (right - left) / W, (bottom - top) / H]


def ftext(x, y, s, **kw):
    kw.setdefault("color", INK)
    fig.text(x / W, 1 - y / H, s, **kw)


def fline(x0, y0, x1, y1, lw=1.5, color="#111111"):
    fig.add_artist(Line2D([x0 / W, x1 / W], [1 - y0 / H, 1 - y1 / H],
                          transform=fig.transFigure, lw=lw, color=color))


def fmt(v):
    return f"{v:g}"


def style(ax, xlim, ylim, xticks, yticks):
    ax.set_xlim(*xlim)
    ax.set_ylim(*ylim)
    ax.set_xticks(xticks)
    ax.set_xticklabels([fmt(v) for v in xticks])
    ax.set_yticks(yticks)
    ax.set_yticklabels([fmt(v) for v in yticks])
    for sp in ax.spines.values():
        sp.set_color(FRAME)
        sp.set_linewidth(1.0)
    ax.tick_params(direction="out", length=4.5, width=0.8, color=FRAME,
                   labelcolor=INK, labelsize=11.5)
    ax.tick_params(axis="x", pad=5)
    ax.tick_params(axis="y", pad=5)
    for lab in ax.get_xticklabels() + ax.get_yticklabels():
        lab.set_family(LABEL_FONT)


def marker_plot(ax, xs, ys):
    ax.plot(xs, ys, ls="none", marker="o", ms=4.4, mfc="none", mec="black",
            mew=1.35, zorder=3)


def residual_scatter(ax, row_sets, points):
    xs, ys = [], []
    for rows in row_sets:
        for y, xrow in rows:
            xs.extend(xrow)
            ys.extend([y] * len(xrow))
    for x, y in points:
        xs.append(x)
        ys.append(y)
    ax.axhline(0, color="#8c8c8c", lw=1.0, zorder=2)
    marker_plot(ax, xs, ys)


def histogram(ax, centers, pct, stats):
    ax.bar(centers, pct, width=BIN_WIDTH, color=BAR_FILL, edgecolor="#262626",
           linewidth=1.0, zorder=2)
    mean = float(dict(stats)["Mean"])
    sd = float(dict(stats)["Std Dev"])
    lo, hi = ax.get_xlim()
    xs = np.linspace(lo, hi, 400)
    dens = np.exp(-0.5 * ((xs - mean) / sd) ** 2) / (sd * np.sqrt(2 * np.pi))
    ax.plot(xs, 100 * BIN_WIDTH * dens, color=CURVE, lw=2.2, zorder=3,
            solid_capstyle="round")


def qq(ax, pairs, stats):
    mean = float(dict(stats)["Mean"])
    sd = float(dict(stats)["Std Dev"])
    lo, hi = ax.get_xlim()
    ax.plot([lo, hi], [mean + sd * lo, mean + sd * hi], color="#a3a3a3", lw=1.0, zorder=2)
    marker_plot(ax, [p[0] for p in pairs], [p[1] for p in pairs])


def stats_table(left, top, right, bottom, res_rows, res_y, fit_y, label_x, fit_x):
    fig.add_artist(Rectangle((left / W, 1 - bottom / H), (right - left) / W,
                             (bottom - top) / H, transform=fig.transFigure,
                             fill=False, lw=1.0, ec="#111111"))
    mid = (left + right) / 2
    kw = dict(family=LABEL_FONT, fontsize=12, va="center")
    ftext(mid, res_y[0], "Residual Statistics", ha="center", **kw)
    for (lab, val), y in zip(res_rows, res_y[1:]):
        ftext(label_x, y, lab, ha="left", **kw)
        ftext(right - 9, y, val, ha="right", **kw)
    ftext(mid, fit_y[0], "Fit Statistics", ha="center", **kw)
    for (lab, val), y, x in zip(FIT_STATS, fit_y[1:], fit_x):
        ftext(x, y, lab, ha="left", **kw)
        ftext(right - 9, y, val, ha="right", **kw)


def axis_labels(xc, yc_lab, xlabel, ylab_x, ylab_y, ylabel):
    kw = dict(family=LABEL_FONT, fontsize=13, va="center", ha="center")
    ftext(xc, yc_lab, xlabel, **kw)
    ftext(ylab_x, ylab_y, ylabel, rotation=90, **kw)


# ---------------------------------------------------------------- frame
fline(8, 5, 8, H)
fline(8, 5, W, 5)
fline(8, 768, W, 768)

ttl = dict(family=TITLE_FONT, fontsize=14.2, fontweight="bold", ha="center", va="center")
ftext(516, 37, TITLES[0], **ttl)
ftext(518, 801, TITLES[1], **ttl)

# ---------------------------------------------------------------- upper block
ax = fig.add_axes(box(87, 60, 508, 330))
style(ax, (-6.21, 10.69), (-4.83, 4.29), [-5, 0, 5, 10], [-4, -2, 0, 2, 4])
residual_scatter(ax, [TOP_ROWS, TOP_CORE], TOP_POINTS)
axis_labels(297, 381, SCATTER_XLABELS[0], 37, 195, "Residual")

ax = fig.add_axes(box(590, 60, 1007, 330))
style(ax, (-4.905, 3.77), (-0.58, 16.71), TOP_HIST_TICKS, [0, 5, 10, 15])
histogram(ax, TOP_HIST_CENTERS, TOP_HIST_PCT, TOP_RES_STATS)
axis_labels(798, 381, "Residual", 537, 195, "Percent")

ax = fig.add_axes(box(87, 418, 508, 690))
style(ax, (-3.68, 3.69), (-4.97, 4.41), [-2, 0, 2], [-4, -2, 0, 2, 4])
qq(ax, TOP_QQ, TOP_RES_STATS)
axis_labels(297, 739, "Quantile", 37, 554, "Residual")

stats_table(652, 418, 913, 726, TOP_RES_STATS,
            [429, 457, 483, 508, 534, 559], [607, 636, 661, 687, 712],
            660, [660, 662, 658, 658])

# ---------------------------------------------------------------- lower block
ax = fig.add_axes(box(87, 826, 508, 1094))
style(ax, (-9.02, 2.45), (-4.38, 4.32), [-8, -6, -4, -2, 0, 2], [-4, -2, 0, 2, 4])
residual_scatter(ax, [BOT_ROWS, BOT_CORE], BOT_POINTS)
axis_labels(297, 1144, SCATTER_XLABELS[1], 37, 960, "Residual")

ax = fig.add_axes(box(590, 826, 1007, 1094))
style(ax, (-4.29, 3.95), (-0.8, 20.8), BOT_HIST_TICKS, [0, 5, 10, 15, 20])
histogram(ax, BOT_HIST_CENTERS, BOT_HIST_PCT, BOT_RES_STATS)
axis_labels(798, 1144, "Residual", 537, 960, "Percent")

ax = fig.add_axes(box(87, 1182, 508, 1454))
style(ax, (-3.68, 3.69), (-4.53, 4.40), [-2, 0, 2], [-4, -2, 0, 2, 4])
qq(ax, BOT_QQ, BOT_RES_STATS)
axis_labels(297, 1503, "Quantile", 37, 1318, "Residual")

stats_table(653, 1182, 913, 1489, BOT_RES_STATS,
            [1193, 1221, 1247, 1272, 1298, 1323], [1371, 1400, 1425, 1451, 1476],
            661, [661, 663, 659, 659])

fig.savefig("out.png", dpi=100, facecolor="white")
